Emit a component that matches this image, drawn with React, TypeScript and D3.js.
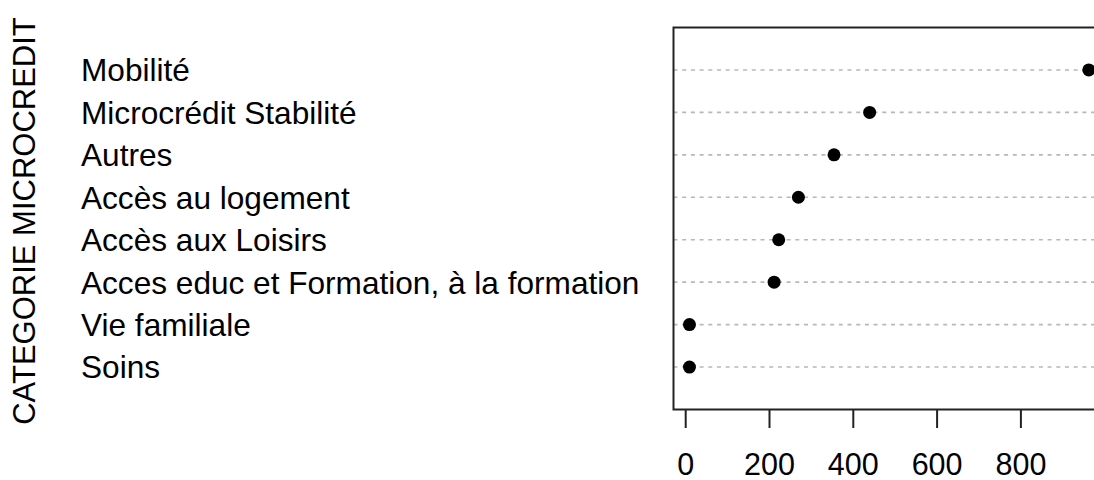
import React from "react";
import * as d3 from "d3";

const categories = [
  "Soins",
  "Vie familiale",
  "Acces educ et Formation, à la formation",
  "Accès aux Loisirs",
  "Accès au logement",
  "Autres",
  "Microcrédit Stabilité",
  "Mobilité",
];
const values = [9, 9, 211, 222, 269, 354, 439, 962];
const xTicks = [0, 200, 400, 600, 800];
const yTitle = "CATEGORIE MICROCREDIT";

const W = 1094;
const H = 480;
const FONT = "'Liberation Sans', Arial, sans-serif";

export default function App() {
  const xmin = d3.min(values) as number;
  const xmax = d3.max(values) as number;
  const ext = (xmax - xmin) * 0.04;
  const left = 673.5;
  const pxPerUnit = 0.419;
  const d0 = xmin - ext;
  const d1 = xmax + ext;
  const x = d3.scaleLinear().domain([d0, d1]).range([left, left + (d1 - d0) * pxPerUnit]);
  const y = d3.scaleLinear().domain([0, categories.length + 1]).range([409.5, 27.5]);
  const right = x(d1);

  return (
    <svg
      width={W}
      height={H}
      style={{ position: "absolute", left: 0, top: 0, background: "#fff" }}
      fontFamily={FONT}
    >
      <rect x={0} y={0} width={W} height={H} fill="#fff" />
      {categories.map((c, i) => (
        <line
          key={"g" + i}
          x1={x(d0)}
          x2={right}
          y1={y(i + 1)}
          y2={y(i + 1)}
          stroke="#b8b8b8"
          strokeWidth={1.6}
          strokeDasharray="4,4.7"
        />
      ))}
      {values.map((v, i) => (
        <circle key={"p" + i} cx={x(v)} cy={y(i + 1)} r={6.5} fill="#000" />
      ))}
      <rect
        x={x(d0)}
        y={y(categories.length + 1)}
        width={right - x(d0)}
        height={y(0) - y(categories.length + 1)}
        fill="none"
        stroke="#222"
        strokeWidth={2}
      />
      {categories.map((c, i) => (
        <text
          key={"l" + i}
          x={81}
          y={y(i + 1)}
          dy="0.36em"
          fontSize={31.6}
          fill="#000"
        >
          {c}
        </text>
      ))}
      {xTicks.map((t) => (
        <g key={"t" + t}>
          <line x1={x(t)} x2={x(t)} y1={410} y2={428} stroke="#222" strokeWidth={2} />
          <text x={x(t)} y={475} textAnchor="middle" fontSize={30.5} fill="#000">
            {t}
          </text>
        </g>
      ))}
      <text
        transform={`translate(35,221) rotate(-90)`}
        textAnchor="middle"
        fontSize={31}
        fill="#000"
      >
        {yTitle}
      </text>
    </svg>
  );
}
